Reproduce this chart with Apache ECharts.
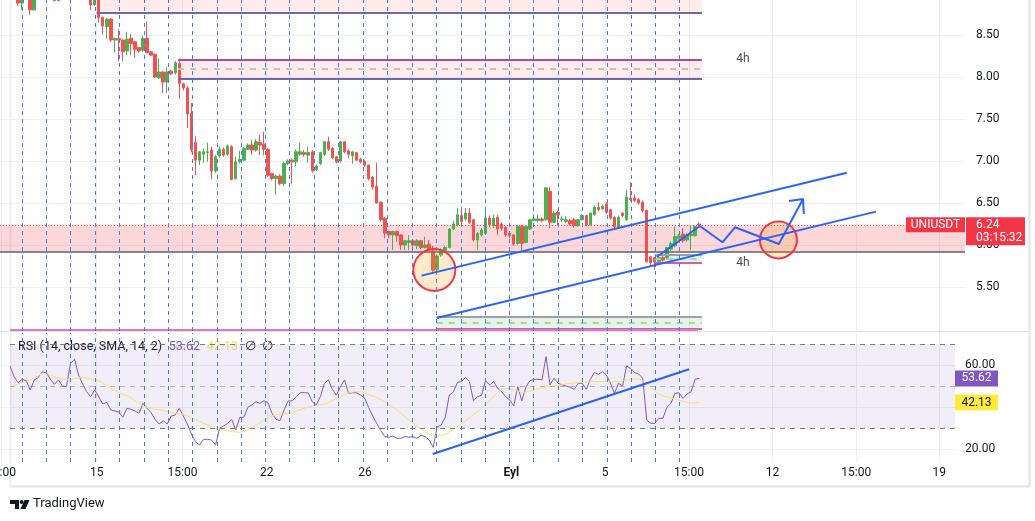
<!DOCTYPE html>
<html>
<head>
<meta charset="utf-8">
<script src="https://cdn.jsdelivr.net/npm/echarts@6/dist/echarts.min.js"></script>
<style>
  html, body { margin: 0; padding: 0; background: #fff; }
  #chart { width: 1035px; height: 521px; }
</style>
</head>
<body>
<div id="chart"></div>
<script>
// UNIUSDT 4h candles. x unit = one 4h slot, slot 24 = 15 Aug 00:00
// [open, close, low, high]
const bars = [
  [9.10, 9.05, 8.98, 9.15], [9.05, 9.12, 9.00, 9.18], [9.12, 9.06, 9.00, 9.16], [9.06, 9.00, 8.95, 9.10],
  [9.00, 8.88, 8.85, 9.04], [8.88, 9.02, 8.80, 9.05], [9.02, 9.05, 8.96, 9.10], [9.05, 8.80, 8.74, 9.08],
  [8.80, 9.00, 8.79, 9.04], [9.00, 9.08, 8.97, 9.12], [9.08, 9.04, 8.98, 9.14], [9.04, 9.10, 9.00, 9.16],
  [9.10, 8.98, 8.96, 9.13], [8.98, 8.91, 8.90, 9.01], [8.91, 8.97, 8.90, 9.00], [8.97, 9.05, 8.95, 9.08],
  [9.05, 8.95, 8.94, 9.09], [8.95, 9.03, 8.88, 9.06], [9.03, 9.10, 9.00, 9.14], [9.10, 9.06, 9.01, 9.13],
  [9.06, 9.00, 8.96, 9.09], [9.00, 8.97, 8.94, 9.04], [8.97, 8.86, 8.80, 8.99], [8.86, 8.97, 8.85, 9.00],
  [8.97, 8.71, 8.65, 9.00], [8.71, 8.61, 8.51, 8.72], [8.60, 8.69, 8.46, 8.70], [8.69, 8.44, 8.42, 8.70],
  [8.44, 8.46, 8.29, 8.47], [8.46, 8.44, 8.19, 8.57], [8.44, 8.30, 8.19, 8.45], [8.31, 8.45, 8.26, 8.54],
  [8.46, 8.40, 8.26, 8.51], [8.42, 8.33, 8.23, 8.43], [8.35, 8.31, 8.29, 8.36], [8.32, 8.46, 8.30, 8.49],
  [8.46, 8.29, 8.28, 8.66], [8.30, 8.26, 8.25, 8.31], [8.27, 8.00, 7.99, 8.28], [7.99, 8.06, 7.98, 8.22],
  [8.06, 7.94, 7.81, 8.07], [7.94, 8.06, 7.81, 8.12], [8.07, 8.04, 8.02, 8.09], [8.05, 8.17, 8.03, 8.19],
  [8.16, 7.92, 7.74, 8.22], [7.92, 7.87, 7.84, 7.93], [7.87, 7.56, 7.39, 7.89], [7.57, 7.13, 7.10, 7.69],
  [7.22, 7.01, 6.83, 7.30], [7.01, 7.11, 6.95, 7.12], [7.08, 7.11, 6.98, 7.15], [7.10, 7.11, 6.99, 7.22],
  [7.13, 6.88, 6.78, 7.17], [6.88, 7.05, 6.86, 7.07], [7.06, 7.14, 7.04, 7.17], [7.14, 7.07, 7.05, 7.16],
  [7.08, 7.18, 7.06, 7.20], [7.17, 6.78, 6.77, 7.19], [6.79, 6.99, 6.78, 7.05], [6.99, 7.02, 6.97, 7.12],
  [7.01, 7.15, 7.00, 7.17], [7.14, 7.19, 7.13, 7.21], [7.19, 7.13, 7.07, 7.25], [7.13, 7.23, 7.11, 7.26],
  [7.22, 7.19, 7.07, 7.31], [7.20, 7.14, 7.07, 7.35], [7.14, 6.83, 6.81, 7.15], [6.85, 6.79, 6.77, 6.86],
  [6.79, 6.82, 6.60, 6.84], [6.82, 6.73, 6.71, 6.84], [6.73, 6.97, 6.70, 6.99], [6.97, 7.00, 6.95, 7.02],
  [7.01, 6.99, 6.73, 7.03], [6.99, 7.11, 6.94, 7.14], [7.08, 7.11, 7.06, 7.22], [7.10, 7.08, 7.05, 7.13],
  [7.07, 7.10, 6.98, 7.17], [7.11, 6.88, 6.86, 7.13], [6.90, 6.94, 6.88, 6.96], [6.97, 7.10, 6.95, 7.11],
  [7.08, 7.23, 7.06, 7.24], [7.23, 7.14, 7.12, 7.29], [7.15, 7.04, 7.02, 7.17], [7.05, 6.99, 6.97, 7.06],
  [7.00, 7.23, 6.98, 7.24], [7.23, 7.11, 7.09, 7.24], [7.12, 7.08, 7.03, 7.14], [7.06, 7.11, 6.97, 7.12],
  [7.10, 7.01, 7.00, 7.11], [7.02, 6.99, 6.97, 7.04], [6.99, 6.95, 6.93, 7.01], [6.95, 6.79, 6.77, 6.96],
  [6.81, 6.69, 6.66, 6.82], [6.70, 6.50, 6.49, 6.98], [6.51, 6.30, 6.28, 6.52], [6.32, 6.14, 6.08, 6.33],
  [6.16, 6.12, 6.08, 6.17], [6.12, 6.16, 5.94, 6.17], [6.16, 6.11, 6.04, 6.17], [6.12, 6.00, 5.94, 6.13],
  [6.00, 6.05, 5.94, 6.06], [6.03, 6.05, 5.94, 6.12], [6.05, 6.00, 5.98, 6.07], [5.99, 6.05, 5.95, 6.07],
  [6.05, 5.97, 5.95, 6.06], [5.97, 6.00, 5.96, 6.10], [6.01, 5.94, 5.93, 6.06], [5.93, 5.70, 5.68, 5.99],
  [5.71, 5.87, 5.68, 5.89], [5.88, 5.94, 5.86, 5.96], [5.93, 5.97, 5.91, 5.99], [5.97, 6.19, 5.96, 6.20],
  [6.19, 6.25, 6.18, 6.29], [6.24, 6.36, 6.22, 6.44], [6.35, 6.28, 6.26, 6.44], [6.31, 6.38, 6.29, 6.44],
  [6.38, 6.27, 6.25, 6.44], [6.30, 6.06, 6.04, 6.31], [6.06, 6.14, 5.94, 6.15], [6.12, 6.18, 6.10, 6.20],
  [6.14, 6.32, 6.12, 6.41], [6.32, 6.24, 6.21, 6.35], [6.23, 6.32, 6.20, 6.36], [6.33, 6.19, 6.12, 6.36],
  [6.25, 6.20, 6.17, 6.27], [6.21, 6.12, 6.10, 6.22], [6.14, 6.11, 6.08, 6.15], [6.12, 6.01, 5.99, 6.13],
  [6.02, 6.22, 6.00, 6.23], [6.22, 6.02, 5.93, 6.24], [6.03, 6.22, 6.02, 6.23], [6.19, 6.30, 6.18, 6.31],
  [6.29, 6.31, 6.28, 6.37], [6.29, 6.31, 6.27, 6.36], [6.31, 6.29, 6.27, 6.33], [6.30, 6.68, 6.29, 6.69],
  [6.64, 6.27, 6.20, 6.69], [6.27, 6.38, 6.26, 6.40], [6.39, 6.36, 6.23, 6.41], [6.30, 6.31, 6.27, 6.35],
  [6.28, 6.30, 6.26, 6.34], [6.29, 6.25, 6.23, 6.31], [6.30, 6.23, 6.21, 6.32], [6.23, 6.30, 6.22, 6.31],
  [6.30, 6.35, 6.29, 6.37], [6.35, 6.24, 6.22, 6.36], [6.24, 6.38, 6.23, 6.39], [6.36, 6.45, 6.35, 6.47],
  [6.45, 6.42, 6.40, 6.51], [6.43, 6.46, 6.42, 6.48], [6.49, 6.39, 6.37, 6.51], [6.42, 6.32, 6.30, 6.43],
  [6.33, 6.22, 6.20, 6.34], [6.20, 6.33, 6.19, 6.35], [6.38, 6.35, 6.33, 6.39], [6.30, 6.57, 6.29, 6.66],
  [6.56, 6.54, 6.52, 6.75], [6.56, 6.53, 6.51, 6.60], [6.54, 6.50, 6.48, 6.56], [6.51, 6.41, 6.39, 6.53],
  [6.41, 5.80, 5.79, 6.42], [5.86, 5.79, 5.75, 5.87], [5.85, 5.80, 5.70, 5.86], [5.80, 5.85, 5.78, 5.86],
  [5.85, 5.82, 5.80, 5.87], [5.85, 5.97, 5.83, 5.98], [5.95, 6.02, 5.93, 6.04], [5.99, 6.10, 5.97, 6.22],
  [6.08, 6.11, 6.06, 6.13], [6.13, 6.05, 6.03, 6.20], [6.06, 6.12, 6.04, 6.14], [6.11, 6.13, 5.94, 6.23],
  [6.11, 6.22, 6.10, 6.23], [6.25, 6.24, 6.22, 6.27]
];

// RSI(14) and its SMA(14), first value at slot 2
const rsiStart = 2;
const rsi = [
  59.5, 54.4, 51.6, 53.2, 52.5, 48.1, 52.9, 54.1, 56.7, 56.3,
  53.2, 50.8, 52.9, 50.0, 49.7, 60.8, 62.7, 55.2, 51.0, 47.3,
  44.9, 48.1, 44.9, 41.4, 42.2, 38.6, 38.1, 37.6, 35.1, 39.4,
  38.9, 38.1, 37.0, 41.7, 39.4, 37.3, 34.1, 31.9, 33.5, 31.9,
  35.7, 36.2, 39.4, 35.7, 31.9, 27.1, 23.5, 21.9, 24.6, 24.6,
  24.3, 21.9, 29.8, 31.0, 32.2, 34.1, 29.1, 35.1, 35.1, 39.8,
  41.0, 42.5, 41.7, 43.0, 42.1, 37.0, 34.1, 33.5, 38.6, 42.9,
  42.9, 44.9, 46.8, 46.8, 46.7, 42.5, 41.0, 44.9, 51.3, 52.9,
  48.4, 45.7, 49.7, 52.9, 46.5, 46.8, 46.8, 45.7, 44.1, 39.8,
  35.7, 32.2, 28.7, 25.9, 25.6, 26.2, 25.1, 25.1, 25.9, 25.6,
  25.9, 25.1, 26.5, 25.9, 24.3, 20.8, 30.6, 31.4, 35.1, 45.7,
  47.1, 51.6, 52.1, 54.0, 52.1, 43.0, 44.9, 45.6, 52.5, 50.5,
  52.1, 48.9, 47.3, 44.9, 43.3, 40.5, 49.7, 42.9, 49.4, 52.5,
  53.2, 53.2, 52.9, 64.0, 50.5, 53.7, 51.3, 50.5, 50.0, 49.4,
  48.4, 51.3, 51.3, 48.4, 53.2, 56.4, 55.6, 56.8, 55.2, 51.3,
  46.5, 51.3, 50.0, 59.5, 58.4, 56.4, 55.7, 53.7, 33.8, 32.2,
  32.2, 34.6, 34.6, 39.8, 41.7, 46.5, 46.8, 44.1, 46.2, 47.3,
  53.2, 53.62
];
const rsiMa = [
  49.4, 50.3, 51.0, 51.6, 52.4, 52.9, 54.1, 54.9, 56.0, 56.0,
  55.2, 54.4, 53.8, 53.3, 53.0, 52.9, 53.5, 54.1, 54.0, 53.7,
  53.3, 53.0, 52.5, 51.3, 50.2, 48.9, 47.9, 46.8, 46.0, 45.4,
  44.4, 43.0, 41.7, 40.6, 39.8, 39.4, 38.9, 38.6, 38.3, 37.8,
  37.5, 37.1, 36.7, 36.4, 35.7, 35.1, 34.1, 33.2, 32.2, 31.4,
  30.6, 29.8, 29.5, 29.1, 28.7, 28.3, 28.1, 28.0, 28.4, 29.1,
  30.2, 31.4, 32.5, 33.8, 34.8, 35.7, 36.2, 36.7, 36.8, 37.0,
  37.5, 38.0, 38.7, 39.4, 40.0, 40.5, 40.8, 41.0, 41.4, 42.1,
  43.2, 44.1, 44.9, 45.9, 46.7, 47.1, 47.3, 47.3, 46.7, 46.0,
  45.2, 44.4, 43.5, 42.4, 41.1, 40.0, 38.6, 37.0, 35.4, 33.8,
  32.4, 31.0, 29.5, 28.1, 27.1, 26.4, 26.2, 26.4, 27.1, 28.1,
  29.4, 30.6, 32.1, 33.3, 34.9, 36.5, 37.8, 39.2, 41.0, 42.9,
  44.9, 47.0, 48.4, 48.9, 48.7, 48.2, 47.6, 47.0, 47.1, 47.6,
  48.1, 48.6, 49.1, 49.5, 49.8, 50.2, 50.3, 50.6, 51.0, 51.3,
  51.4, 51.6, 51.8, 51.9, 52.1, 52.1, 52.1, 52.1, 52.1, 52.1,
  52.1, 52.1, 52.4, 52.9, 53.2, 53.3, 53.5, 52.5, 51.3, 49.7,
  47.8, 46.2, 45.2, 44.9, 44.3, 43.8, 43.3, 42.7, 42.1, 41.9,
  41.9, 42.13
];

// time scale
const timeTicks = [0.25, 24, 45.3, 66.2, 90.6, 126.9, 150.2, 171, 191.7, 212.5, 233.1];
const timeLabels = ['15:00', '15', '15:00', '22', '26', 'Eyl', '5', '15:00', '12', '15:00', '19'];
const priceTicks = [5.5, 6, 6.5, 7, 7.5, 8, 8.5];
const rsiTicks = [20, 40, 60];
// daily vertical marker lines (slots)
const dayLines = [5.5, 11.5, 17.5, 23.7, 29.7, 35.7, 41.8, 47.8, 53.8, 59.8, 65.9, 71.9, 78.0, 84.0,
  90.1, 96.2, 102.3, 108.2, 114.4, 120.4, 126.3, 132.3, 138.5, 144.5, 150.6, 156.6, 162.7, 168.6];

// zones: [fromSlot, toSlot, low, high]
const supplyZones = [[24, 174.2, 8.76, 8.917], [44.2, 174.2, 7.985, 8.21]];
const mainZone = [0, 239.5, 5.92, 6.24];
const demandZones = [[162.5, 174.2, 5.79, 5.88], [108.4, 174.2, 5.0, 5.143]];
const lowerLevel = [2.48, 173.2, 4.99];
const zoneTags = [[184.4, 8.214], [184.4, 5.786]];
const rsiBand = [2.48, 30, 70];

// drawings [slot, price]
const channelUpper = [[104.6, 5.635], [210.2, 6.861]];
const channelLower = [[108.4, 5.131], [217.4, 6.397]];
const shortTrend = [[163.0, 5.857], [173.7, 6.226]];
const forecastPath = [[173.7, 6.226], [179.3, 6.032], [182.4, 6.211], [193.3, 6.012], [199.3, 6.548]];
const arrowHead = [[195.8, 6.524], [199.3, 6.548], [199.5, 6.369]];
const circles = [[107.8, 5.703], [193.2, 6.060]];
const rsiTrend = [[107.4, 17.6], [171, 58.0]];

const lastPrice = 6.24;
const countdown = '03:15:32';
const lastRsi = 53.62;
const lastRsiMa = 42.13;

const X0MAX = 239.5;
const X1MAX = 237.0;
const FONT = 'Roboto, "Liberation Sans", sans-serif';
const TXT = '#131722';
const BLUE = '#2962ff';
const UP = '#4caf50';
const DOWN = '#ef5350';

const chart = echarts.init(document.getElementById('chart'));

function hLine(x1, x2, y, color, type, width) {
  return [{ coord: [x1, y], lineStyle: { color: color, type: type, width: width } }, { coord: [x2, y] }];
}

const zoneAreas = [];
const zoneEdges = [];
supplyZones.forEach(function (z, i) {
  zoneAreas.push([{ coord: [z[0], z[2]], itemStyle: { color: 'rgba(242,54,69,0.1)' } }, { coord: [z[1], z[3]] }]);
  zoneEdges.push(hLine(z[0], z[1], z[2], '#6b6aa6', 'solid', 2));
  if (i === 1) {
    zoneEdges.push(hLine(z[0], z[1], z[3], '#b5479a', 'solid', 2));
    zoneEdges.push(hLine(z[0], z[1], (z[2] + z[3]) / 2, '#bccab4', [6, 6], 2));
  }
});
zoneAreas.push([{ coord: [mainZone[0], mainZone[2]], itemStyle: { color: 'rgba(242,54,69,0.2)' } }, { coord: [mainZone[1], mainZone[3]] }]);
zoneEdges.push(hLine(mainZone[0], mainZone[1], mainZone[2], '#5d606b', 'solid', 1.5));
demandZones.forEach(function (z) {
  zoneAreas.push([{ coord: [z[0], z[2]], itemStyle: { color: 'rgba(76,175,80,0.14)' } }, { coord: [z[1], z[3]] }]);
  zoneEdges.push(hLine(z[0], z[1], z[3], '#9ea1aa', 'solid', 2));
  zoneEdges.push(hLine(z[0], z[1], z[2], '#d15fae', 'solid', 2));
  zoneEdges.push(hLine(z[0], z[1], (z[2] + z[3]) / 2, '#a8d5aa', [6, 6], 2));
});
zoneEdges.push(hLine(lowerLevel[0], lowerLevel[1], lowerLevel[2], '#d67bbd', 'solid', 2));

function drawLine(name, pts, xi, width) {
  return {
    name: name, type: 'line', xAxisIndex: xi, yAxisIndex: xi, data: pts, z: 6,
    showSymbol: false, symbol: 'none', silent: true,
    lineStyle: { color: BLUE, width: width }
  };
}

const dayMarks = {
  silent: true, symbol: ['none', 'none'], label: { show: false },
  lineStyle: { color: '#3b7cf2', type: [4, 4], width: 1 },
  data: dayLines.map(function (v) { return { xAxis: v }; })
};

function rsiLevel(v, color) {
  return [{ coord: [rsiBand[0], v], lineStyle: { color: color, type: [5, 5], width: 1 } }, { coord: [X1MAX, v] }];
}

const option = {
  animation: false,
  textStyle: { fontFamily: FONT },
  grid: [
    { left: 0, right: 70, top: 0, height: 331, outerBoundsMode: 'none', containLabel: false },
    { left: 0, right: 80, top: 333, height: 129, outerBoundsMode: 'none', containLabel: false }
  ],
  xAxis: [
    {
      type: 'value', gridIndex: 0, min: 0, max: X0MAX,
      axisLine: { show: false }, axisTick: { show: false, customValues: timeTicks },
      axisLabel: { show: false, customValues: timeTicks },
      splitLine: { show: true, lineStyle: { color: '#eef0f3' } }
    },
    {
      type: 'value', gridIndex: 1, min: 0, max: X1MAX,
      axisLine: { show: false }, axisTick: { show: false, customValues: timeTicks },
      axisLabel: {
        customValues: timeTicks, color: TXT, fontSize: 12, margin: 5, fontFamily: FONT,
        alignMinLabel: 'center', alignMaxLabel: 'center',
        formatter: function (v) {
          const s = timeLabels[timeTicks.indexOf(v)];
          return s === 'Eyl' ? '{b|Eyl}' : s;
        },
        rich: { b: { fontWeight: 'bold', fontSize: 12, color: TXT, fontFamily: FONT } }
      },
      splitLine: { show: true, lineStyle: { color: '#eef0f3' } }
    }
  ],
  yAxis: [
    {
      type: 'value', gridIndex: 0, position: 'right', min: 4.976, max: 8.917,
      axisLine: { show: false }, axisTick: { show: false, customValues: priceTicks },
      axisLabel: {
        customValues: priceTicks, color: TXT, fontSize: 12, margin: 11, fontFamily: FONT,
        formatter: function (v) { return v.toFixed(2); }
      },
      splitLine: { lineStyle: { color: '#eef0f3' } }
    },
    {
      type: 'value', gridIndex: 1, position: 'right', min: 13.81, max: 75.24,
      axisLine: { show: false }, axisTick: { show: false, customValues: rsiTicks },
      axisLabel: {
        customValues: rsiTicks, color: TXT, fontSize: 12, margin: 10, fontFamily: FONT,
        formatter: function (v) { return v.toFixed(2); }
      },
      splitLine: { lineStyle: { color: '#eef0f3' } }
    }
  ],
  series: [
    {
      name: 'zones', type: 'line', xAxisIndex: 0, yAxisIndex: 0, data: [], z: 1,
      markArea: { silent: true, data: zoneAreas },
      markLine: { silent: true, symbol: ['none', 'none'], label: { show: false }, data: zoneEdges },
      markPoint: {
        silent: true, symbol: 'circle', symbolSize: 0,
        label: { show: true, position: 'inside', formatter: '4h', color: '#4a4d57', fontSize: 12, fontFamily: FONT },
        data: zoneTags.map(function (p) { return { coord: p }; })
      }
    },
    {
      name: 'days', type: 'line', xAxisIndex: 0, yAxisIndex: 0, data: [], z: 2, markLine: dayMarks
    },
    {
      name: 'UNIUSDT', type: 'candlestick', xAxisIndex: 0, yAxisIndex: 0, z: 3, barWidth: 3,
      data: bars.map(function (b, i) { return [i + 0.5, b[0], b[1], b[2], b[3]]; }),
      itemStyle: { color: UP, color0: DOWN, borderColor: UP, borderColor0: DOWN, borderWidth: 1 },
      markLine: {
        silent: true, symbol: ['none', 'none'], label: { show: false },
        lineStyle: { color: DOWN, type: [1, 2], width: 1 },
        data: [{ yAxis: lastPrice }]
      },
      markPoint: {
        silent: true,
        data: [
          {
            coord: [X0MAX, lastPrice], symbol: 'rect', symbolSize: [59, 15], symbolOffset: [-29.5, 0],
            itemStyle: { color: '#f23645' },
            label: { show: true, position: 'inside', formatter: 'UNIUSDT', color: '#fff', fontSize: 12, fontFamily: FONT }
          },
          {
            coord: [X0MAX, lastPrice], symbol: 'rect', symbolSize: [59, 28], symbolOffset: [30.5, 6.5],
            itemStyle: { color: '#f23645' },
            label: {
              show: true, position: [10, 1], align: 'left', verticalAlign: 'top', lineHeight: 13,
              formatter: lastPrice.toFixed(2) + '\n' + countdown, color: '#fff', fontSize: 12, fontFamily: FONT
            }
          }
        ]
      }
    },
    drawLine('upper', channelUpper, 0, 2),
    drawLine('lower', channelLower, 0, 2),
    drawLine('short', shortTrend, 0, 2),
    drawLine('path', forecastPath, 0, 2),
    drawLine('arrow', arrowHead, 0, 2),
    {
      name: 'circles', type: 'scatter', xAxisIndex: 0, yAxisIndex: 0, z: 5, silent: true,
      data: circles.map(function (c, i) { return { value: c, symbolSize: [42, 37][i] }; }),
      itemStyle: { color: 'rgba(255,152,0,0.2)', borderColor: '#f23645', borderWidth: 2, opacity: 1 }
    },
    {
      name: 'rsiBand', type: 'line', xAxisIndex: 1, yAxisIndex: 1, data: [], z: 1,
      markArea: {
        silent: true, itemStyle: { color: 'rgba(126,87,194,0.1)' },
        data: [[{ coord: [rsiBand[0], rsiBand[1]] }, { coord: [X1MAX, rsiBand[2]] }]]
      },
      markLine: {
        silent: true, symbol: ['none', 'none'], label: { show: false },
        data: [
          rsiLevel(70, '#787b86'),
          rsiLevel(30, '#787b86'),
          rsiLevel(50, 'rgba(120,123,134,0.5)')
        ]
      }
    },
    {
      name: 'days2', type: 'line', xAxisIndex: 1, yAxisIndex: 1, data: [], z: 2, markLine: dayMarks
    },
    {
      name: 'RSI', type: 'line', xAxisIndex: 1, yAxisIndex: 1, z: 3, showSymbol: false, symbol: 'none',
      data: rsi.map(function (v, i) { return [rsiStart + i + 0.5, v]; }),
      lineStyle: { color: '#7e57c2', width: 1 },
      markPoint: {
        silent: true, symbol: 'rect', symbolSize: [43, 16], symbolOffset: [21.5, 0],
        data: [{
          coord: [X1MAX, lastRsi], itemStyle: { color: '#7e57c2' },
          label: { show: true, position: 'inside', formatter: lastRsi.toFixed(2), color: '#fff', fontSize: 12, fontFamily: FONT }
        }]
      }
    },
    {
      name: 'RSI MA', type: 'line', xAxisIndex: 1, yAxisIndex: 1, z: 3, showSymbol: false, symbol: 'none',
      data: rsiMa.map(function (v, i) { return [rsiStart + i + 0.5, v]; }),
      lineStyle: { color: '#f5e25a', width: 1 },
      markPoint: {
        silent: true, symbol: 'rect', symbolSize: [43, 16], symbolOffset: [21.5, 0],
        data: [{
          coord: [X1MAX, lastRsiMa], itemStyle: { color: '#ffeb3b' },
          label: { show: true, position: 'inside', formatter: lastRsiMa.toFixed(2), color: TXT, fontSize: 12, fontFamily: FONT }
        }]
      }
    },
    drawLine('rsiTrend', rsiTrend, 1, 2)
  ],
  graphic: [
    { type: 'line', shape: { x1: 0, y1: 331.5, x2: 1030, y2: 331.5 }, style: { stroke: '#e0e3eb', lineWidth: 1 }, silent: true },
    { type: 'line', shape: { x1: 10, y1: 486.5, x2: 1030, y2: 486.5 }, style: { stroke: '#e0e3eb', lineWidth: 2 }, silent: true },
    { type: 'line', shape: { x1: 10.5, y1: 0, x2: 10.5, y2: 487 }, style: { stroke: '#eceef2', lineWidth: 2 }, silent: true },
    { type: 'line', shape: { x1: 1029.5, y1: 0, x2: 1029.5, y2: 487 }, style: { stroke: '#e0e3eb', lineWidth: 2 }, silent: true },
    {
      type: 'text', left: 18, top: 340, silent: true,
      style: {
        text: '{a|RSI (14, close, SMA, 14, 2)}  {p|' + lastRsi.toFixed(2) + '}  {y|' + lastRsiMa.toFixed(2) + '}  {a|∅}  {a|∅}',
        rich: {
          a: { fill: TXT, fontSize: 12.5, fontFamily: FONT },
          p: { fill: '#7e57c2', fontSize: 12.5, fontFamily: FONT },
          y: { fill: '#f5e25a', fontSize: 12.5, fontFamily: FONT }
        }
      }
    },
    { type: 'polygon', shape: { points: [[10, 500], [19, 500], [19, 509], [15, 509], [15, 504], [10, 504]] }, style: { fill: TXT }, silent: true },
    { type: 'circle', shape: { cx: 21.6, cy: 502, r: 2 }, style: { fill: TXT }, silent: true },
    { type: 'polygon', shape: { points: [[24.5, 500], [29.5, 500], [25.5, 509], [20.5, 509]] }, style: { fill: TXT }, silent: true },
    { type: 'text', left: 33, top: 497, silent: true, style: { text: 'TradingView', fill: TXT, fontSize: 13, fontFamily: FONT } }
  ]
};

chart.setOption(option);
</script>
</body>
</html>
